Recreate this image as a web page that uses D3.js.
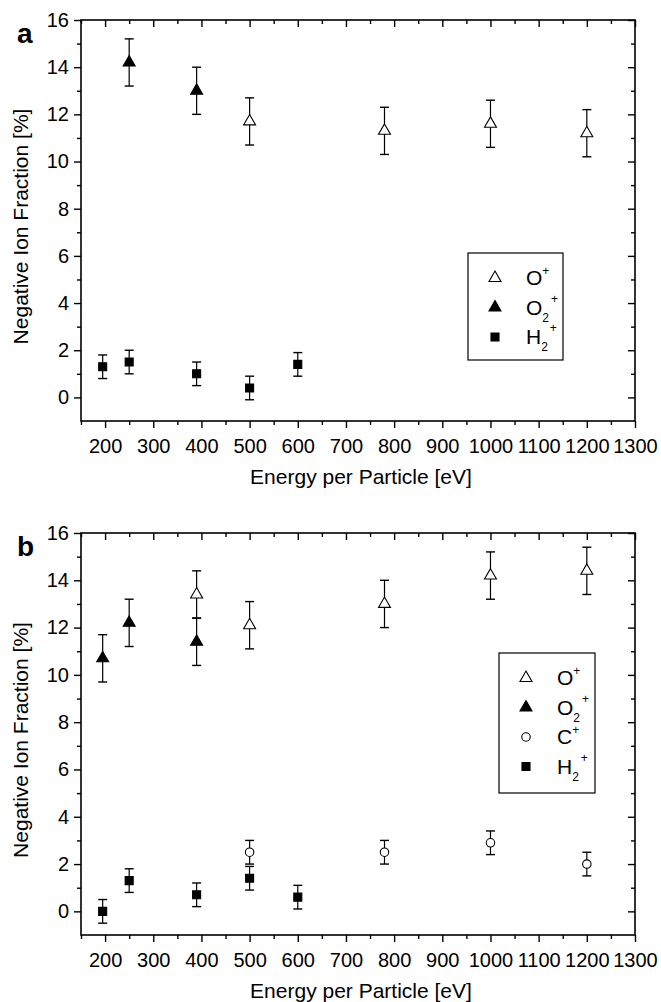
<!DOCTYPE html>
<html>
<head>
<meta charset="utf-8">
<script src="https://cdn.jsdelivr.net/npm/d3@7"></script>
<style>
	body { margin: 0; background: #fff; }
	text { font-family: 'Liberation Sans', Arial, sans-serif; fill: #000; }
</style>
</head>
<body>
<div id="chart"></div>
<script>
// panel a
const aOplusE = [ 500, 780, 1000, 1200 ];
const aOplusV = [ 11.7, 11.3, 11.6, 11.2 ];
const aO2plusE = [ 250, 390 ];
const aO2plusV = [ 14.2, 13.0 ];
const aH2plusE = [ 195, 250, 390, 500, 600 ];
const aH2plusV = [ 1.3, 1.5, 1.0, 0.4, 1.4 ];

// panel b
const bOplusE = [ 390, 500, 780, 1000, 1200 ];
const bOplusV = [ 13.4, 12.1, 13.0, 14.2, 14.4 ];
const bO2plusE = [ 195, 250, 390 ];
const bO2plusV = [ 10.7, 12.2, 11.4 ];
const bCplusE = [ 500, 780, 1000, 1200 ];
const bCplusV = [ 2.5, 2.5, 2.9, 2.0 ];
const bH2plusE = [ 195, 250, 390, 500, 600 ];
const bH2plusV = [ 0.0, 1.3, 0.7, 1.4, 0.6 ];

// error bars (half widths)
const errO = 1.0;
const errSmall = 0.5;

const xMajor = [ 200, 300, 400, 500, 600, 700, 800, 900, 1000, 1100, 1200, 1300 ];
const xMinor = [ 150, 250, 350, 450, 550, 650, 750, 850, 950, 1050, 1150, 1250 ];
const yMajor = [ 0, 2, 4, 6, 8, 10, 12, 14, 16 ];
const yMinor = [ 1, 3, 5, 7, 9, 11, 13, 15 ];

const xTitle = 'Energy per Particle [eV]';
const yTitle = 'Negative Ion Fraction [%]';

const width = 661;
const height = 1002;

const svg = d3.select('#chart').append('svg').attr('width', width).attr('height', height);

function zip(es, vs, err) {
	return es.map(function(e, i) {
		return { e: e, v: vs[i], err: err };
	});
}

function symbolPath(kind) {
	if (kind === 'tri') return d3.symbol().type(d3.symbolTriangle).size(62)();
	if (kind === 'sq') return d3.symbol().type(d3.symbolSquare).size(64)();
	return d3.symbol().type(d3.symbolCircle).size(56)();
}

function drawPanel(opt) {
	const left = 81, right = 635;
	const x = d3.scaleLinear().domain([ 150, 1300 ]).range([ left, right ]);
	const y = d3.scaleLinear().domain([ -1, 16 ]).range([ opt.bottom, opt.top ]);
	const g = svg.append('g');

	// axes: bottom and left outward, top and right inward
	g.append('g').attr('transform', `translate(0,${opt.bottom})`)
		.call(d3.axisBottom(x).tickValues(xMajor).tickFormat(d3.format('d')).tickSize(7).tickPadding(11).tickSizeOuter(0))
		.attr('class', 'x axis');
	g.append('g').attr('transform', `translate(0,${opt.bottom})`)
		.call(d3.axisBottom(x).tickValues(xMinor).tickSize(4).tickFormat('').tickSizeOuter(0));
	g.append('g').attr('transform', `translate(0,${opt.top})`)
		.call(d3.axisTop(x).tickValues(xMajor).tickSize(-7).tickFormat('').tickSizeOuter(0));
	g.append('g').attr('transform', `translate(0,${opt.top})`)
		.call(d3.axisTop(x).tickValues(xMinor).tickSize(-4).tickFormat('').tickSizeOuter(0));

	g.append('g').attr('transform', `translate(${left},0)`)
		.call(d3.axisLeft(y).tickValues(yMajor).tickSize(7).tickPadding(5).tickSizeOuter(0))
		.attr('class', 'y axis');
	g.append('g').attr('transform', `translate(${left},0)`)
		.call(d3.axisLeft(y).tickValues(yMinor).tickSize(4).tickFormat('').tickSizeOuter(0));
	g.append('g').attr('transform', `translate(${right},0)`)
		.call(d3.axisRight(y).tickValues(yMajor).tickSize(-7).tickFormat('').tickSizeOuter(0));
	g.append('g').attr('transform', `translate(${right},0)`)
		.call(d3.axisRight(y).tickValues(yMinor).tickSize(-4).tickFormat('').tickSizeOuter(0));

	g.selectAll('.domain').remove();
	g.selectAll('.tick line').attr('stroke', '#000').attr('stroke-width', 1.4);
	g.selectAll('.tick text').attr('font-size', '20px').attr('font-family', "'Liberation Sans', Arial, sans-serif").attr('fill', '#000');

	g.append('rect')
		.attr('x', left).attr('y', opt.top)
		.attr('width', right - left).attr('height', opt.bottom - opt.top)
		.attr('fill', 'none').attr('stroke', '#000').attr('stroke-width', 1.6);

	// titles
	g.append('text').attr('x', (left + right) / 2 + 3).attr('y', opt.bottom + 63)
		.attr('text-anchor', 'middle').attr('font-size', '21px').text(xTitle);
	g.append('text')
		.attr('transform', `translate(28,${(opt.top + opt.bottom) / 2 + 6}) rotate(-90)`)
		.attr('text-anchor', 'middle').attr('font-size', '21px').text(yTitle);
	g.append('text').attr('x', 17).attr('y', opt.top + 23)
		.attr('font-size', '28px').attr('font-weight', 'bold').text(opt.letter);

	// series: error bars then markers
	opt.series.forEach(function(s) {
		const sg = g.append('g');
		const bars = sg.selectAll('g.err').data(s.data).enter().append('g').attr('class', 'err');
		bars.append('line')
			.attr('x1', d => x(d.e)).attr('x2', d => x(d.e))
			.attr('y1', d => y(d.v - d.err)).attr('y2', d => y(d.v + d.err))
			.attr('stroke', '#000').attr('stroke-width', 1.2);
		[ -1, 1 ].forEach(function(sign) {
			bars.append('line')
				.attr('x1', d => x(d.e) - 4.5).attr('x2', d => x(d.e) + 4.5)
				.attr('y1', d => y(d.v + sign * d.err)).attr('y2', d => y(d.v + sign * d.err))
				.attr('stroke', '#000').attr('stroke-width', 1.4);
		});
		sg.selectAll('path.mark').data(s.data).enter().append('path')
			.attr('class', 'mark')
			.attr('d', symbolPath(s.kind))
			.attr('transform', d => `translate(${x(d.e)},${y(d.v)})`)
			.attr('fill', s.filled ? '#000' : '#fff')
			.attr('stroke', '#000').attr('stroke-width', 1.1);
	});

	// legend
	const lg = g.append('g');
	lg.append('rect')
		.attr('x', opt.legend.x).attr('y', opt.legend.y)
		.attr('width', opt.legend.w).attr('height', opt.legend.h)
		.attr('fill', '#fff').attr('stroke', '#000').attr('stroke-width', 1.2);
	opt.series.forEach(function(s, i) {
		const cy = opt.legend.y + 25 + i * opt.legend.step;
		lg.append('path').attr('d', symbolPath(s.kind))
			.attr('transform', `translate(${opt.legend.x + 27},${cy})`)
			.attr('fill', s.filled ? '#000' : '#fff')
			.attr('stroke', '#000').attr('stroke-width', 1.1);
		const t = lg.append('text').attr('x', opt.legend.x + 58).attr('y', cy + 7).attr('font-size', '21px');
		t.append('tspan').text(s.base);
		if (s.sub) {
			t.append('tspan').attr('font-size', '12px').attr('dy', 7).text(s.sub);
			t.append('tspan').attr('font-size', '12px').attr('dy', -19).attr('dx', 2).text('+');
		} else {
			t.append('tspan').attr('font-size', '12px').attr('dy', -10).text('+');
		}
	});
}

drawPanel({
	letter : 'a',
	top    : 20,
	bottom : 421,
	legend : { x: 468, y: 253, w: 95, h: 107, step: 29.5 },
	series : [
		{ base: 'O', sub: null, kind: 'tri', filled: false, data: zip(aOplusE, aOplusV, errO) },
		{ base: 'O', sub: '2', kind: 'tri', filled: true, data: zip(aO2plusE, aO2plusV, errO) },
		{ base: 'H', sub: '2', kind: 'sq', filled: true, data: zip(aH2plusE, aH2plusV, errSmall) }
	]
});

drawPanel({
	letter : 'b',
	top    : 533,
	bottom : 935,
	legend : { x: 499, y: 653, w: 96, h: 140, step: 29.5 },
	series : [
		{ base: 'O', sub: null, kind: 'tri', filled: false, data: zip(bOplusE, bOplusV, errO) },
		{ base: 'O', sub: '2', kind: 'tri', filled: true, data: zip(bO2plusE, bO2plusV, errO) },
		{ base: 'C', sub: null, kind: 'circ', filled: false, data: zip(bCplusE, bCplusV, errSmall) },
		{ base: 'H', sub: '2', kind: 'sq', filled: true, data: zip(bH2plusE, bH2plusV, errSmall) }
	]
});
</script>
</body>
</html>
